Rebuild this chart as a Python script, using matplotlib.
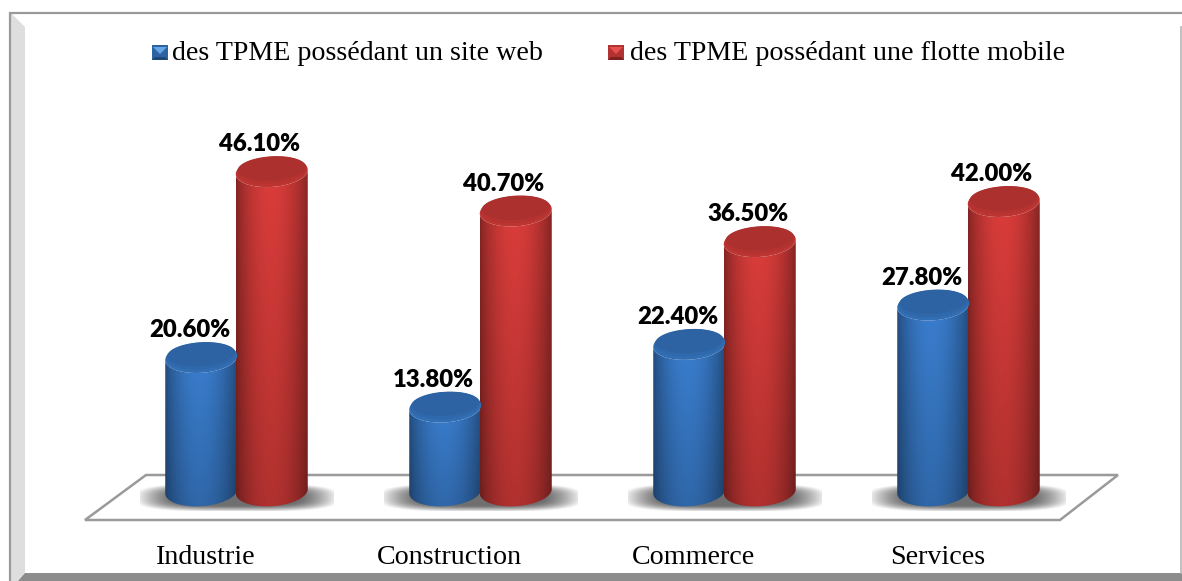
import matplotlib
matplotlib.use('Agg')
import matplotlib.pyplot as plt
import numpy as np
from matplotlib.path import Path
from matplotlib.patches import PathPatch, Polygon, Rectangle

categories = ['Industrie', 'Construction', 'Commerce', 'Services']
site_web = [20.6, 13.8, 22.4, 27.8]
flotte_mobile = [46.1, 40.7, 36.5, 42.0]
legend_labels = ['des TPME possédant un site web', 'des TPME possédant une flotte mobile']

SERIF = 'Liberation Serif'
W, H = 1182, 581
PX_PER_PCT = 7.29
PX_PER_CAT = 244.0
BAR_W = 36 / PX_PER_CAT      # half width
BAR_H = 15 / PX_PER_PCT      # half height of the ellipses
BASE = 2.3                   # cylinders stand a little above zero
OFFSET = 0.1445
BLUE_RGB = np.array([0.23, 0.50, 0.82])
RED_RGB = np.array([0.86, 0.24, 0.23])

fig = plt.figure(figsize=(W / 100, H / 100), dpi=100, facecolor='white')

# ── frame, floor and legend live in a pixel-space axes behind the chart ──
bg = fig.add_axes([0, 0, 1, 1])
bg.set_xlim(0, W)
bg.set_ylim(H, 0)
bg.axis('off')

bg.add_patch(Polygon([(11, 13), (25, 27), (25, 573), (18, 581), (11, 581)], fc='#dedede', ec='none'))
bg.add_patch(Polygon([(18, 581), (25, 573), (W, 573), (W, 581)], fc='#8c8c8c', ec='none'))
bg.plot([10, 10, W], [581, 12.5, 12.5], color='#9a9a9a', lw=1.6, solid_joinstyle='miter')
bg.plot([1180.5, 1180.5], [27, 573], color='#b5b5b5', lw=1.2)
bg.add_patch(Polygon([(85, 520), (146, 475), (1118, 475), (1060, 520)], closed=True,
                     fc='white', ec='#9a9a9a', lw=1.8))


def legend_mark(x, y, base, light, dark):
    bg.add_patch(Rectangle((x, y), 16, 15, fc=base, ec='none'))
    bg.add_patch(Polygon([(x + 1, y + 2), (x + 15, y + 2), (x + 8, y + 9)], fc=light, ec='none'))
    bg.add_patch(Polygon([(x, y + 15), (x + 3, y + 12), (x + 13, y + 12), (x + 16, y + 15)],
                         fc=dark, ec='none'))


legend_mark(152, 45, '#2f62a0', '#66a6e6', '#1f4674')
legend_mark(608, 45, '#b23232', '#e85050', '#7c2020')
bg.text(172, 54, legend_labels[0], family=SERIF, fontsize=20.2, va='center', color='black')
bg.text(630, 54, legend_labels[1], family=SERIF, fontsize=20.2, va='center', color='black')

# ── chart axes: value 0 sits at pixel 508, one category is 244 px wide ──
left, right = 236.5 - PX_PER_CAT / 2, 236.5 + 3.5 * PX_PER_CAT
top = 100
ax = fig.add_axes([left / W, 1 - 508 / H, (right - left) / W, (508 - top) / H])
ax.patch.set_alpha(0)
for s in ax.spines.values():
    s.set_visible(False)
ax.set_yticks([])
ax.tick_params(axis='x', length=0, pad=27)
ax.set_xticks(np.arange(len(categories)) - 0.127, categories, family=SERIF, fontsize=20.2)


def ellipse_xy(cx, cy, t):
    x = cx + BAR_W * np.cos(t)
    tilt = (x - cx) / BAR_W * 2.2 / PX_PER_PCT
    return x, cy + BAR_H * np.sin(t) + tilt


def cylinder(cx, value, rgb):
    t = np.linspace(np.pi, 2 * np.pi, 60)
    xb, yb = ellipse_xy(cx, BASE, t)
    xt, yt = ellipse_xy(cx, value, t[::-1])
    verts = np.r_[np.c_[xb, yb], np.c_[xt, yt], [[xb[0], yb[0]]]]
    body = PathPatch(Path(verts), fc='none', ec='none', transform=ax.transData)
    ax.add_patch(body)
    # side shading: dark edges, bright just right of the middle, dimmer to the bottom
    u = np.linspace(0, 1, 90)
    prof = 0.6 + 0.4 * np.sin(np.pi * u ** 0.95) ** 0.8
    v = np.linspace(0.8, 1.0, 60)[:, None, None]
    img = (prof[None, :, None] * rgb[None, None, :]) * v
    im = ax.imshow(np.clip(img, 0, 1), extent=(cx - BAR_W, cx + BAR_W, BASE - BAR_H - 1, value + BAR_H),
                   aspect='auto', origin='lower', interpolation='bilinear', zorder=3)
    im.set_clip_path(body)
    # top face, dark on top and fading into the side towards the front
    t2 = np.linspace(0, 2 * np.pi, 120)
    xe, ye = ellipse_xy(cx, value, t2)
    ax.fill(xe, ye, color=rgb * 0.86, ec='none', zorder=3.1)
    for k, shade in ((0.25, 0.82), (0.5, 0.78)):
        xi, yi = ellipse_xy(cx, value + k, t2)
        ax.fill(cx + (xi - cx) * (1 - k * 0.12), value + k + (yi - value - k) * (1 - k * 0.4),
                color=rgb * shade, ec='none', zorder=3.2)


def shadow(cx):
    xs = np.linspace(-1, 1, 160)
    ys = np.linspace(-1, 1, 50)
    xx, yy = np.meshgrid(xs, ys)
    alpha = np.clip(1.25 - (np.abs(xx) ** 3.5 + np.abs(yy) ** 3), 0, 1) ** 1.2 * 0.75
    rgba = np.zeros((50, 160, 4))
    rgba[..., :3] = 0.25
    rgba[..., 3] = alpha
    ax.imshow(rgba, extent=(cx - 97 / PX_PER_CAT, cx + 97 / PX_PER_CAT, -3 / PX_PER_PCT, 24 / PX_PER_PCT),
              aspect='auto', origin='lower', interpolation='bilinear', zorder=2, clip_on=False)


for i, (a, b) in enumerate(zip(site_web, flotte_mobile)):
    shadow(i)
    cylinder(i - OFFSET, a, BLUE_RGB)
    cylinder(i + OFFSET, b, RED_RGB)
    for xpos, val in ((i - OFFSET, a), (i + OFFSET, b)):
        ax.annotate(f'{val:.2f}%', (xpos, val), xytext=(-8.5, 20), textcoords='offset points',
                    ha='center', va='center', family='Lato', fontweight='heavy', fontsize=17.2,
                    color='black', zorder=5)

ax.set_xlim(-0.5, 3.5)
ax.set_ylim(0, (508 - top) / PX_PER_PCT)

fig.savefig('out.png', dpi=100)
